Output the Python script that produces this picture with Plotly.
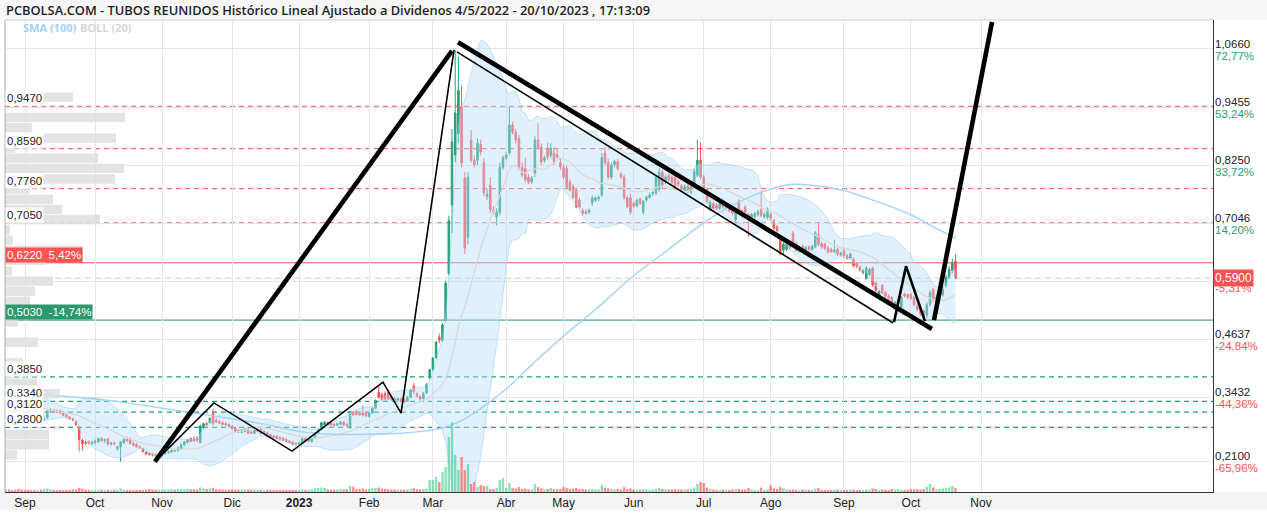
import pandas as pd
import numpy as np
import plotly.graph_objects as go

# ---------------- data ----------------
HOLIDAYS = ["2022-12-26", "2023-04-07", "2023-04-10", "2023-05-01"]

OPEN = [
    .372, .376, .371, .364, .367, .359, .363, .356, .353, .347, .351, .344, .341, .337, .334, .331, .327, .321, .325, .319, .317, .314, .313,
    .312, .310, .309, .308, .306, .310, .296, .300, .314, .316, .314, .315, .310, .306, .302, .298, .292, .281, .254, .249, .250, .246,
    .249, .250, .257, .253, .256, .246, .248, .236, .240, .248, .256, .257, .247, .245, .240, .236, .229, .226, .225, .223, .222,
    .224, .226, .228, .229, .232, .232, .236, .244, .249, .257, .256, .258, .249, .279, .288, .290, .309, .295, .292, .290, .288, .286,
    .282, .279, .274, .270, .272, .278, .270, .268, .272, .276, .268, .269, .265, .262, .262, .259, .258, .255, .252, .250, .247,
    .246, .249, .257, .252, .251, .258, .268, .276, .285, .290, .290, .287, .285, .287, .291, .286, .279, .312, .313, .309, .310, .310,
    .303, .310, .320, .353, .348, .350, .352, .343, .340, .337, .339, .338, .335, .343, .366, .350, .344, .340, .352, .383,
    .400, .425, .468, .461, .503, .600, .742, .846, .890, .946, .798, .675, .877, .835, .835, .868, .830, .760, .783, .732, .717, .727, .820,
    .840, .850, .908, .893, .880, .820, .818, .800, .790, .808, .877, .862, .835, .860, .845, .850, .846, .830,
    .820, .818, .790, .780, .773, .752, .730, .728, .727, .746, .752, .755, .763, .850, .830, .800, .826, .832, .806, .800, .757, .757,
    .745, .740, .755, .727, .752, .758, .765, .767, .775, .810, .790, .803, .800, .800, .790, .782, .772, .782, .768, .782, .804, .835,
    .800, .775, .733, .745, .742, .735, .746, .735, .738, .735, .711, .750, .730, .738, .722, .715, .718, .722, .732, .718, .716,
    .722, .710, .697, .672, .648, .650, .664, .684, .662, .648, .656, .648, .655, .650, .655, .680, .662, .661, .653, .650, .645, .650, .638,
    .648, .637, .632, .630, .620, .613, .602, .590, .598, .611, .580, .555, .575, .560, .553, .550, .532, .536, .530, .557, .556,
    .556, .550, .532, .526, .522, .513, .536, .566, .545, .545, .555, .575, .592, .606, .625,
]
HIGH = [
    .379, .380, .374, .371, .370, .366, .366, .359, .356, .354, .354, .347, .344, .340, .337, .334, .330, .327, .328, .322, .320, .317, .316,
    .316, .314, .313, .312, .312, .313, .303, .318, .320, .318, .317, .317, .312, .308, .304, .300, .294, .283, .257, .252, .253, .252,
    .255, .259, .260, .257, .259, .250, .251, .242, .252, .258, .262, .260, .250, .248, .243, .238, .231, .228, .227, .226, .227,
    .228, .230, .232, .234, .236, .240, .247, .252, .256, .259, .262, .262, .286, .290, .291, .301, .318, .300, .296, .293, .291, .289,
    .285, .281, .277, .276, .279, .280, .274, .276, .278, .279, .274, .271, .267, .265, .264, .262, .260, .258, .254, .252, .250,
    .250, .259, .260, .258, .258, .270, .278, .292, .293, .292, .293, .289, .290, .293, .293, .290, .314, .315, .316, .312, .325, .313,
    .312, .322, .338, .366, .352, .355, .356, .346, .343, .342, .342, .341, .345, .360, .372, .353, .347, .354, .372, .402,
    .426, .460, .475, .497, .585, .720, .900, 1.064, 1.050, .990, .810, .810, .898, .845, .880, .878, .840, .775, .800, .740, .735, .830, .845,
    .852, .946, .915, .900, .888, .830, .840, .806, .802, .885, .912, .870, .845, .872, .870, .862, .858, .840,
    .826, .824, .795, .785, .778, .757, .735, .733, .735, .762, .760, .762, .850, .862, .838, .830, .836, .838, .810, .805, .762, .765,
    .750, .756, .758, .752, .762, .768, .772, .805, .818, .815, .805, .808, .805, .806, .795, .786, .785, .786, .785, .818, .877, .872,
    .805, .778, .752, .749, .746, .749, .750, .746, .742, .739, .731, .754, .734, .742, .726, .726, .728, .732, .770, .726, .737,
    .726, .713, .700, .676, .664, .666, .668, .688, .666, .658, .660, .657, .658, .660, .688, .706, .666, .664, .657, .653, .670, .653, .645,
    .652, .640, .643, .633, .623, .616, .609, .615, .612, .614, .583, .566, .578, .563, .556, .553, .543, .548, .553, .560, .558,
    .560, .553, .536, .530, .525, .540, .565, .570, .555, .558, .572, .598, .615, .630, .640,
]
LOW = [
    .368, .366, .362, .360, .356, .355, .351, .348, .344, .343, .339, .336, .332, .329, .326, .322, .318, .317, .314, .312, .309, .308, .307,
    .306, .305, .304, .303, .302, .305, .294, .298, .310, .311, .310, .308, .303, .300, .296, .293, .284, .230, .232, .244, .245, .244,
    .245, .248, .250, .248, .242, .242, .243, .232, .209, .246, .250, .245, .241, .238, .236, .228, .223, .222, .220, .214, .220,
    .221, .223, .225, .227, .229, .230, .234, .241, .247, .249, .250, .249, .247, .277, .282, .288, .284, .289, .287, .284, .283, .280,
    .276, .270, .268, .268, .270, .266, .266, .266, .270, .265, .266, .262, .258, .257, .256, .254, .252, .249, .247, .243, .243,
    .244, .247, .250, .250, .248, .256, .266, .274, .283, .283, .283, .282, .283, .285, .283, .281, .277, .304, .305, .304, .303, .302,
    .300, .308, .318, .340, .335, .336, .337, .336, .335, .334, .332, .331, .333, .341, .350, .342, .337, .338, .350, .380,
    .398, .423, .455, .458, .500, .595, .684, .830, .870, .820, .640, .660, .830, .820, .825, .845, .760, .752, .725, .722, .700, .720, .815,
    .835, .845, .888, .870, .815, .800, .790, .785, .786, .800, .858, .825, .830, .835, .840, .825, .838, .815,
    .795, .775, .770, .755, .735, .735, .720, .722, .722, .740, .748, .750, .758, .825, .795, .795, .820, .814, .796, .752, .735, .722,
    .735, .737, .742, .722, .748, .755, .760, .762, .770, .775, .785, .790, .784, .776, .780, .770, .768, .766, .764, .778, .800, .795,
    .770, .745, .729, .732, .731, .731, .734, .731, .726, .721, .707, .723, .716, .723, .676, .711, .714, .718, .716, .714, .712,
    .710, .690, .685, .638, .640, .646, .650, .656, .645, .644, .645, .645, .646, .647, .652, .656, .651, .648, .641, .642, .642, .636, .635,
    .633, .628, .630, .612, .611, .604, .598, .587, .595, .572, .561, .552, .556, .549, .545, .530, .528, .533, .528, .550, .546,
    .545, .532, .521, .512, .505, .508, .532, .540, .542, .540, .552, .570, .588, .600, .588,
]
CLOSE = [
    .375, .370, .366, .368, .360, .362, .355, .352, .348, .350, .343, .340, .336, .333, .330, .326, .322, .324, .318, .316, .313, .312, .311,
    .310, .308, .306, .305, .309, .307, .301, .314, .316, .313, .312, .310, .305, .302, .298, .296, .286, .255, .246, .247, .248, .249,
    .251, .257, .253, .255, .245, .248, .245, .240, .250, .255, .252, .247, .243, .240, .238, .230, .225, .224, .223, .222, .225,
    .227, .228, .230, .233, .231, .238, .245, .250, .254, .251, .252, .253, .283, .288, .285, .299, .288, .291, .289, .286, .285, .282,
    .278, .272, .270, .275, .277, .268, .268, .274, .276, .267, .272, .264, .259, .259, .257, .256, .254, .251, .249, .245, .246,
    .248, .257, .252, .256, .257, .268, .276, .290, .291, .285, .285, .284, .288, .291, .285, .284, .312, .306, .307, .306, .306, .304,
    .310, .320, .336, .343, .338, .339, .339, .338, .337, .339, .334, .333, .343, .357, .354, .345, .339, .350, .369, .400,
    .424, .457, .461, .493, .580, .710, .873, .933, .980, .829, .652, .800, .835, .826, .870, .852, .767, .764, .732, .728, .727, .820, .840,
    .846, .908, .893, .877, .820, .804, .794, .790, .798, .877, .862, .831, .840, .841, .860, .830, .842, .821,
    .800, .779, .773, .758, .738, .738, .725, .725, .731, .757, .757, .758, .840, .830, .800, .825, .832, .818, .800, .757, .738, .727,
    .740, .752, .745, .750, .758, .763, .768, .800, .810, .780, .800, .795, .788, .780, .785, .775, .780, .770, .780, .812, .835, .800,
    .775, .750, .748, .736, .735, .745, .738, .742, .730, .725, .727, .727, .720, .727, .715, .722, .724, .728, .720, .722, .733,
    .714, .694, .689, .642, .660, .662, .653, .660, .648, .655, .648, .654, .650, .656, .684, .660, .655, .652, .645, .645, .648, .640, .642,
    .637, .632, .640, .616, .615, .608, .606, .611, .608, .576, .565, .562, .560, .553, .548, .533, .540, .545, .550, .553, .550,
    .548, .535, .525, .516, .512, .535, .560, .545, .550, .552, .566, .592, .608, .622, .590,
]
VOLUME = [
    300, 200, 250, 350, 200, 180, 260, 300, 220, 190, 240, 210, 280, 200, 230, 260, 190, 210, 250, 180, 220, 300, 240,
    200, 220, 180, 210, 190, 230, 300, 350, 250, 200, 190, 210, 180, 200, 220, 240, 260, 400, 350, 220, 200, 180,
    180, 200, 220, 190, 230, 200, 210, 220, 350, 250, 200, 190, 180, 210, 220, 200, 230, 300, 250, 220, 240,
    250, 220, 240, 260, 230, 300, 320, 280, 300, 260, 280, 250, 450, 380, 300, 350, 420, 280, 260, 240, 220, 230,
    250, 230, 220, 240, 260, 250, 220, 230, 240, 210, 220, 230, 200, 190, 200, 180, 210, 220, 190, 200, 210,
    200, 250, 220, 230, 260, 380, 420, 450, 400, 260, 240, 230, 250, 270, 240, 260, 600, 520, 300, 280, 350, 260,
    300, 380, 420, 450, 350, 300, 280, 250, 230, 240, 220, 230, 250, 320, 380, 280, 250, 300, 350, 1200,
    1200, 1500, 1000, 2000, 2500, 5500, 7000, 3700, 2200, 3500, 2200, 2800, 800, 1000, 500, 700, 600, 600, 300, 300, 400, 1200, 1400,
    400, 900, 400, 350, 500, 300, 350, 250, 250, 800, 500, 350, 250, 300, 400, 300, 250, 300,
    500, 400, 300, 350, 400, 300, 300, 250, 250, 300, 250, 250, 700, 450, 350, 300, 250, 300, 250, 500, 300, 350,
    250, 250, 200, 300, 250, 200, 250, 350, 400, 300, 250, 250, 250, 300, 250, 250, 250, 250, 300, 450, 800, 1000,
    900, 450, 300, 250, 200, 200, 250, 200, 200, 250, 250, 300, 200, 250, 400, 250, 200, 200, 450, 200, 250,
    700, 350, 300, 500, 400, 250, 200, 250, 200, 200, 250, 200, 200, 200, 350, 400, 200, 200, 200, 200, 250, 200, 200,
    200, 200, 250, 200, 200, 200, 200, 250, 200, 350, 300, 200, 250, 200, 200, 300, 250, 300, 200, 200, 200,
    300, 250, 300, 250, 300, 500, 800, 450, 250, 300, 350, 400, 450, 600, 400,
]

SMA_DATES = ["2022-08-24", "2022-09-01", "2022-09-15", "2022-10-03", "2022-10-17", "2022-11-01",
             "2022-11-15", "2022-12-01", "2022-12-15", "2023-01-02", "2023-01-16", "2023-02-01",
             "2023-02-15", "2023-03-01", "2023-03-08", "2023-03-15", "2023-04-03", "2023-04-17",
             "2023-05-02", "2023-05-16", "2023-06-01", "2023-06-15", "2023-07-03", "2023-07-17",
             "2023-08-01", "2023-08-10", "2023-08-21", "2023-09-01", "2023-09-15", "2023-10-02",
             "2023-10-10", "2023-10-20"]
SMA_VALUES = [0.352, 0.350, 0.346, 0.339, 0.331, 0.320, 0.310, 0.298, 0.287, 0.272, 0.266, 0.266,
              0.268, 0.275, 0.283, 0.298, 0.360, 0.410, 0.470, 0.525, 0.595, 0.645, 0.705, 0.745,
              0.775, 0.785, 0.782, 0.772, 0.750, 0.722, 0.700, 0.673]

# volume-at-price profile (left side)
VP_PRICE = [0.966, 0.945, 0.924, 0.903, 0.881, 0.860, 0.839, 0.818, 0.796, 0.775,
            0.754, 0.733, 0.712, 0.690, 0.669, 0.648, 0.627, 0.605, 0.584, 0.563,
            0.542, 0.520, 0.499, 0.478, 0.457, 0.435, 0.414, 0.393, 0.372, 0.350,
            0.329, 0.308, 0.287, 0.265, 0.244, 0.223]
VP_VOLUME = [68, 0, 120, 27, 111, 10, 93, 119, 110, 25,
             48, 57, 95, 5, 8, 78, 40, 7, 48, 30,
             25, 25, 13, 0, 33, 0, 18, 7, 32, 55,
             38, 40, 0, 44, 44, 12]

# first trading day of each month
MONTH_TICKS = ["2022-09-01", "2022-10-03", "2022-11-01", "2022-12-01", "2023-01-02", "2023-02-01",
               "2023-03-01", "2023-04-03", "2023-05-02", "2023-06-01", "2023-07-03", "2023-08-01",
               "2023-09-01", "2023-10-02", "2023-11-01"]
MONTH_LABELS = ["Sep", "Oct", "Nov", "Dic", "<b>2023</b>", "Feb", "Mar", "Abr", "May", "Jun",
                "Jul", "Ago", "Sep", "Oct", "Nov"]

RIGHT_TICK_VALUES = [1.0660, 0.9455, 0.8250, 0.7046, 0.5841, 0.4637, 0.3432, 0.2100]
RIGHT_TICK_LABELS = ["1,0660", "0,9455", "0,8250", "0,7046", "0,5841", "0,4637", "0,3432", "0,2100"]
RIGHT_TICK_PCTS = ["72,77%", "53,24%", "33,72%", "14,20%", "-5,31%", "-24,84%", "-44,36%", "-65,96%"]

RED_DASH_LEVELS = [0.9470, 0.8590, 0.7760, 0.7050]
RED_DASH_LABELS = ["0,9470", "0,8590", "0,7760", "0,7050"]
GREEN_DASH_LEVELS = [0.3850, 0.3340, 0.3120, 0.2800]
GREEN_DASH_LABELS = ["0,3850", "0,3340", "0,3120", "0,2800"]
RESIST_LEVEL, RESIST_LABEL = 0.6220, "0,6220\u00a0\u00a05,42%"
SUPPORT_LEVEL, SUPPORT_LABEL = 0.5030, "0,5030\u00a0\u00a0-14,74%"
LAST_PRICE, LAST_LABEL = 0.5900, "0,5900"

# hand-drawn trend lines: (date, price) vertices
TREND_THICK_UP = [("2022-10-27 19:00", 0.209), ("2023-03-09 00:00", 1.062)]
TREND_THIN_ZIGZAG = [("2022-10-27 19:00", 0.209), ("2022-11-23 07:30", 0.331), ("2022-12-28 19:00", 0.231),
                     ("2023-02-07 08:00", 0.374), ("2023-02-15 00:00", 0.310), ("2023-03-09 15:00", 1.064)]
TREND_THICK_DOWN = [("2023-03-10 21:00", 1.080), ("2023-10-10 14:00", 0.4845)]
TREND_THIN_DOWN = [("2023-03-10 13:00", 1.060), ("2023-09-22 10:00", 0.497)]
TREND_W = [("2023-09-22 17:00", 0.499), ("2023-09-28 11:00", 0.615), ("2023-10-06 10:00", 0.501)]
TREND_THICK_BREAKOUT = [("2023-10-11 06:00", 0.503), ("2023-11-06 11:00", 1.122)]

X_RANGE = ["2022-08-23 17:20", "2024-02-09 19:10"]
Y_RANGE = [0.1460, 1.1262]

TITLE = "PCBOLSA.COM - TUBOS REUNIDOS Histórico Lineal Ajustado a Dividenos 4/5/2022 - 20/10/2023 , 17:13:09"

# ---------------- build ----------------
GREEN = "#26a17b"
RED = "#ff5252"

dates = pd.bdate_range("2022-08-01", "2023-10-20")
dates = dates[~dates.isin(pd.to_datetime(HOLIDAYS))]
assert len(dates) == len(OPEN) == len(HIGH) == len(LOW) == len(CLOSE) == len(VOLUME), \
    (len(dates), len(OPEN), len(HIGH), len(LOW), len(CLOSE), len(VOLUME))

close = pd.Series(CLOSE, index=dates)
mid = close.rolling(20).mean()
sd = close.rolling(20).std(ddof=0)
upper = mid + 2 * sd
lower = mid - 2 * sd

fig = go.Figure()
fig.add_trace(go.Scatter(x=dates, y=upper, mode="lines", line=dict(color="rgba(140,198,242,0.45)", width=1),
                         hoverinfo="skip", showlegend=False))
fig.add_trace(go.Scatter(x=dates, y=lower, mode="lines", line=dict(color="rgba(140,198,242,0.45)", width=1),
                         fill="tonexty", fillcolor="rgba(182,220,248,0.42)", hoverinfo="skip", showlegend=False))
fig.add_trace(go.Scatter(x=dates, y=mid, mode="lines", line=dict(color="#d9d9d9", width=1.3),
                         hoverinfo="skip", showlegend=False))
fig.add_trace(go.Scatter(x=pd.to_datetime(SMA_DATES), y=SMA_VALUES, mode="lines",
                         line=dict(color="#a3d2f6", width=1.4, shape="spline"), hoverinfo="skip", showlegend=False))
fig.add_trace(go.Candlestick(x=dates, open=OPEN, high=HIGH, low=LOW, close=CLOSE,
                             increasing=dict(line=dict(color=GREEN, width=1), fillcolor=GREEN),
                             decreasing=dict(line=dict(color=RED, width=1), fillcolor=RED),
                             whiskerwidth=0, showlegend=False))
vol_colors = ["rgba(60,205,140,0.6)" if c >= o else "rgba(255,82,82,0.65)" for o, c in zip(OPEN, CLOSE)]
fig.add_trace(go.Bar(x=dates, y=VOLUME, marker=dict(color=vol_colors, line=dict(width=0)),
                     yaxis="y3", showlegend=False, hoverinfo="skip"))
fig.add_trace(go.Bar(x=VP_VOLUME, y=VP_PRICE, orientation="h", width=0.0195,
                     marker=dict(color="rgba(222,222,222,0.85)", line=dict(width=0)),
                     xaxis="x2", yaxis="y", showlegend=False, hoverinfo="skip"))


def add_path(points, width):
    xs = [p[0] for p in points]
    ys = [p[1] for p in points]
    fig.add_trace(go.Scatter(x=pd.to_datetime(xs), y=ys, mode="lines",
                             line=dict(color="black", width=width), hoverinfo="skip", showlegend=False))


add_path(TREND_THIN_ZIGZAG, 1.6)
add_path(TREND_THIN_DOWN, 1.6)
add_path(TREND_W, 2.6)
add_path(TREND_THICK_UP, 4.6)
add_path(TREND_THICK_DOWN, 4.6)
add_path(TREND_THICK_BREAKOUT, 4.6)

shapes = []
DASH = "5px,4px"
for v in RED_DASH_LEVELS:
    shapes.append(dict(type="line", xref="paper", x0=0, x1=1, yref="y", y0=v, y1=v, layer="below",
                       line=dict(color="#ef5350", width=1, dash=DASH)))
for v in GREEN_DASH_LEVELS:
    shapes.append(dict(type="line", xref="paper", x0=0, x1=1, yref="y", y0=v, y1=v, layer="below",
                       line=dict(color="#18a370", width=1.2, dash=DASH)))
shapes.append(dict(type="line", xref="paper", x0=0, x1=1, yref="y", y0=RESIST_LEVEL, y1=RESIST_LEVEL,
                   layer="below", line=dict(color="#ef5350", width=1)))
shapes.append(dict(type="line", xref="paper", x0=0, x1=1, yref="y", y0=SUPPORT_LEVEL, y1=SUPPORT_LEVEL,
                   layer="below", line=dict(color="#2a8f68", width=1)))
shapes.append(dict(type="line", xref="paper", x0=0, x1=1, yref="y", y0=LAST_PRICE, y1=LAST_PRICE,
                   layer="below", line=dict(color="rgba(40,150,110,0.35)", width=1, dash="6px,4px")))
# title bar and frame
shapes.append(dict(type="rect", xref="paper", yref="paper", x0=-5 / 1208, x1=1 + 54 / 1208,
                   y0=1, y1=1 + 20 / 472, fillcolor="#f6f6f6", line=dict(width=0), layer="below"))
shapes.append(dict(type="rect", xref="paper", yref="paper", x0=-5 / 1208, x1=1 + 54 / 1208,
                   y0=-18 / 472, y1=0, fillcolor="#f4f4f4", line=dict(width=0), layer="below"))
shapes.append(dict(type="line", xref="paper", yref="paper", x0=0, x1=0, y0=0, y1=1,
                   line=dict(color="#aaaaaa", width=1)))
shapes.append(dict(type="line", xref="paper", yref="paper", x0=0, x1=1, y0=1, y1=1,
                   line=dict(color="#d0d0d0", width=1)))

NUM_FONT = "Liberation Sans, Arial, sans-serif"
ann = []
ann.append(dict(text=TITLE, xref="paper", yref="paper", x=0, y=1 + 10 / 472, xanchor="left", yanchor="middle",
                xshift=-1, showarrow=False,
                font=dict(family="Open Sans, sans-serif", size=12.85, color="#1e1e1e", weight=600)))
ann.append(dict(text="SMA (100)", xref="paper", yref="paper", x=16 / 1208, y=(492 - 28) / 472,
                xanchor="left", yanchor="middle", showarrow=False,
                font=dict(family="Open Sans, sans-serif", size=11, color="#a3d2f6", weight=700)))
ann.append(dict(text="BOLL (20)", xref="paper", yref="paper", x=73 / 1208, y=(492 - 28) / 472,
                xanchor="left", yanchor="middle", showarrow=False,
                font=dict(family="Open Sans, sans-serif", size=11, color="#d6d6d6", weight=700)))
for v, lab, pct in zip(RIGHT_TICK_VALUES, RIGHT_TICK_LABELS, RIGHT_TICK_PCTS):
    col = GREEN if not pct.startswith("-") else RED
    ann.append(dict(text=lab, xref="paper", yref="y", x=1, y=v, xanchor="left", yanchor="bottom",
                    xshift=1, yshift=-2, showarrow=False, borderpad=0,
                    font=dict(family=NUM_FONT, size=11.5, color="#222")))
    ann.append(dict(text=pct, xref="paper", yref="y", x=1, y=v, xanchor="left", yanchor="top",
                    xshift=1, yshift=0, showarrow=False, borderpad=0,
                    font=dict(family=NUM_FONT, size=11.5, color=col)))
ann.append(dict(text=LAST_LABEL, xref="paper", yref="y", x=1, y=LAST_PRICE, xanchor="left", yanchor="middle",
                xshift=0, showarrow=False, bgcolor=RED, borderpad=1,
                font=dict(family=NUM_FONT, size=12, color="white")))
for v, lab in list(zip(RED_DASH_LEVELS, RED_DASH_LABELS)) + list(zip(GREEN_DASH_LEVELS, GREEN_DASH_LABELS)):
    ann.append(dict(text=lab, xref="paper", yref="y", x=0, y=v, xanchor="left", yanchor="bottom",
                    xshift=0, yshift=0, showarrow=False, bgcolor="white", borderpad=1,
                    font=dict(family=NUM_FONT, size=11.5, color="#222")))
ann.append(dict(text=RESIST_LABEL, xref="paper", yref="y", x=0, y=RESIST_LEVEL, xanchor="left", yanchor="bottom",
                showarrow=False, bgcolor=RED, borderpad=1,
                font=dict(family=NUM_FONT, size=11.5, color="white")))
ann.append(dict(text=SUPPORT_LABEL, xref="paper", yref="y", x=0, y=SUPPORT_LEVEL, xanchor="left",
                yanchor="bottom", showarrow=False, bgcolor="#2a9a6e", borderpad=1,
                font=dict(family=NUM_FONT, size=11.5, color="white")))

fig.update_layout(
    width=1267, height=515,
    margin=dict(l=5, r=54, t=20, b=23, autoexpand=False),
    paper_bgcolor="white", plot_bgcolor="white",
    showlegend=False, bargap=0.25,
    shapes=shapes, annotations=ann,
    xaxis=dict(type="date", range=X_RANGE, automargin=False,
               rangebreaks=[dict(bounds=["sat", "mon"]), dict(values=HOLIDAYS)],
               tickmode="array", tickvals=pd.to_datetime(MONTH_TICKS), ticktext=MONTH_LABELS, ticks="",
               tickfont=dict(family=NUM_FONT, size=12, color="#222"),
               showgrid=True, gridcolor="#e6e6e6", gridwidth=1,
               showline=True, linecolor="#333", linewidth=1, zeroline=False,
               rangeslider=dict(visible=False)),
    xaxis2=dict(overlaying="x", range=[0, 1208], visible=False, automargin=False),
    yaxis=dict(side="right", range=Y_RANGE, tickvals=RIGHT_TICK_VALUES, showticklabels=False, ticks="",
               showgrid=True, gridcolor="#e6e6e6", gridwidth=1, automargin=False,
               showline=True, linecolor="#333", linewidth=1, zeroline=False),
    yaxis3=dict(overlaying="y", range=[0, 47200], visible=False, automargin=False),
)

fig.write_html("out.html", config={"displayModeBar": False},
               post_script="document.body.style.margin='0px';document.body.style.overflow='hidden';")
